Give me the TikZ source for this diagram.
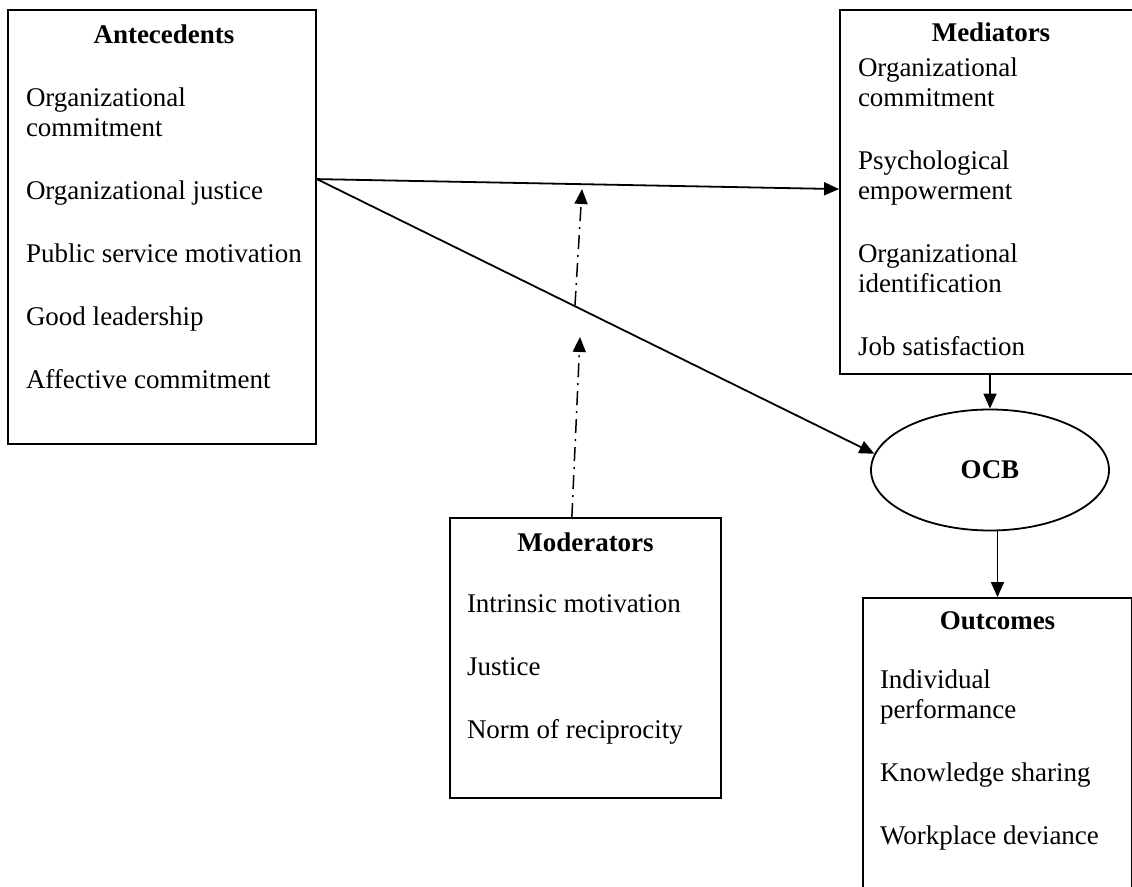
\documentclass[tikz,border=0pt]{standalone}
\usepackage{fontspec}
\setmainfont{Liberation Serif}
\usetikzlibrary{arrows.meta,shapes.geometric,calc}
\tikzset{>/.tip={Triangle[length=7.5pt,width=6.5pt]}}
\tikzset{
  box/.style={draw, line width=0.9pt, inner sep=0pt},
  boxtitle/.style={font=\fontsize{13.5}{15}\selectfont\bfseries, inner sep=0pt},
  boxlist/.style={font=\fontsize{13.5}{15}\selectfont, align=left, anchor=north west, inner sep=0pt},
  modline/.style={->, line width=0.75pt, dash pattern=on 7pt off 3pt on 1pt off 3pt}
}

\begin{document}
\begin{tikzpicture}[x=0.5pt,y=-0.5pt,line width=0.9pt]
\useasboundingbox (0,0) rectangle (1132,887);
\clip (0,0) rectangle (1132,887);

% boxes
\node[box, minimum width=154pt, minimum height=217pt] (ante) at (162,227) {};
\node[box, minimum width=151pt, minimum height=182pt] (medi) at (991,192) {};
\node[box, minimum width=135.5pt, minimum height=140pt] (mode) at (585.5,658) {};
\node[box, minimum width=134.5pt, minimum height=151pt] (outc) at (997.5,749) {};
\node[ellipse, draw, minimum width=119pt, minimum height=60.5pt, inner sep=0pt,
  font=\fontsize{13.5}{15}\selectfont\bfseries] (ocb) at (990,470) {OCB};

% titles and lists
\node[boxtitle] (ante-t) at ($(ante.north)+(2,25)$) {Antecedents};
\node[boxlist] (ante-l) at ($(ante.north west)+(18,78)$)
  {Organizational\\commitment\\[16.5pt]
   Organizational justice\\[16.5pt]
   Public service motivation\\[16.5pt]
   Good leadership\\[16.5pt]
   Affective commitment};

\node[boxtitle] (medi-t) at ($(medi.north)+(0,23)$) {Mediators};
\node[boxlist] (medi-l) at ($(medi.north west)+(18,48)$)
  {Organizational\\commitment\\[16.5pt]
   Psychological\\empowerment\\[16.5pt]
   Organizational\\identification\\[16.5pt]
   Job satisfaction};

\node[boxtitle] (mode-t) at ($(mode.north)+(0,25)$) {Moderators};
\node[boxlist] (mode-l) at ($(mode.north west)+(17,77)$)
  {Intrinsic motivation\\[16.5pt]
   Justice\\[16.5pt]
   Norm of reciprocity};

\node[boxtitle] (outc-t) at ($(outc.north)+(0,24)$) {Outcomes};
\node[boxlist] (outc-l) at ($(outc.north west)+(17,72)$)
  {Individual\\performance\\[16.5pt]
   Knowledge sharing\\[16.5pt]
   Workplace deviance};

% connectors
\coordinate (src) at ($(ante.north east)+(0,170)$);
\coordinate (dst) at ($(medi.north west)+(0,180)$);
\draw[->] (src) -- (dst);
\draw[->] (src) -- (ocb.172);
\draw[->] (ocb.north |- medi.south) -- (ocb.north);
\draw[->] (ocb.south -| outc.north) -- (outc.north);

% moderating effect
\coordinate (mod-a) at ($(mode.north west)!0.45!(mode.north east)$);
\coordinate (mod-b) at (580,337);
\coordinate (mod-c) at (575,305);
\coordinate (mod-d) at (582,189);
\draw[modline] (mod-a) -- (mod-b);
\draw[modline] (mod-c) -- (mod-d);
\end{tikzpicture}
\end{document}
